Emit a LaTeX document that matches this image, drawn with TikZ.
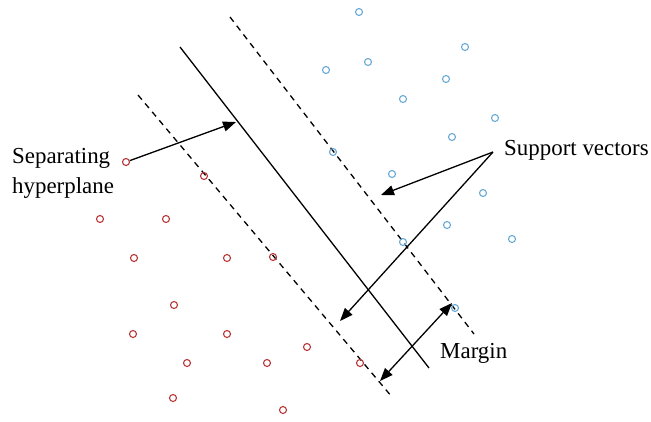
\documentclass[tikz,border=0pt]{standalone}
\usepackage{amsmath}
\usepackage{fontspec}
\setmainfont{Liberation Serif}
\usetikzlibrary{arrows.meta,positioning}
\definecolor{classred}{RGB}{185,55,55}
\definecolor{classblue}{RGB}{105,170,215}
\tikzset{
  red pt/.style={circle, draw=classred, line width=1.1bp, inner sep=0pt, minimum size=7bp},
  blue pt/.style={circle, draw=classblue, line width=1.1bp, inner sep=0pt, minimum size=7bp},
  plane/.style={line width=1.3bp},
  margin line/.style={line width=1.3bp, dash pattern=on 6bp off 5bp},
  pointer/.style={-{Triangle[length=13bp,width=10bp]}, line width=1.3bp},
  label/.style={inner sep=0pt, font=\fontsize{23}{30}\selectfont},
}

\begin{document}
\begin{tikzpicture}[x=1bp, y=-1bp]

  \useasboundingbox (0,0) rectangle (651,421);

  % Hyperplane and the two margin lines
  \coordinate (h1) at (180,47);  \coordinate (h2) at (429,368);
  \coordinate (u1) at (230,17);  \coordinate (u2) at (474,334);
  \coordinate (l1) at (138,95);  \coordinate (l2) at (392,397);
  \draw[plane] (h1) -- (h2);
  \draw[margin line] (u1) -- (u2);
  \draw[margin line] (l1) -- (l2);

  % Class points (red below, blue above)
  \foreach \x/\y [count=\i] in {
    126/162, 204/176, 100/219, 166/219, 134/258, 227/258, 273/257,
    174/305, 133/334, 227/334, 307/347, 187/363, 267/363, 360/363,
    173/398, 283/410
  }{
    \node[red pt] (r\i) at (\x,\y) {};
  }
  \foreach \x/\y [count=\i] in {
    359/12, 465/47, 368/62, 326/70, 446/79, 403/99, 495/118, 452/137,
    333/152, 392/174, 483/193, 447/225, 512/239, 403/242, 455/308
  }{
    \node[blue pt] (b\i) at (\x,\y) {};
  }

  % Labels
  \node[label, anchor=base west, align=left] (sep) at (12,193) {Separating\\hyperplane};
  \node[label, anchor=base west] (sv) at (504,155) {Support vectors};
  \node[label, anchor=base west] (mg) at (440,358) {Margin};

  % Pointers
  \coordinate (hp) at (236,122);
  \coordinate (svA) at (493,152);
  \coordinate (svU) at (381,195);
  \coordinate (svL) at (340,321);
  \coordinate (mL) at (380,381);
  \coordinate (mU) at (452,303);
  \draw[pointer] (r1) -- (hp);
  \draw[pointer] (svA) -- (svU);
  \draw[pointer] (svA) -- (svL);
  \draw[pointer, {Triangle[length=13bp,width=10bp]}-{Triangle[length=13bp,width=10bp]}] (mL) -- (mU);

\end{tikzpicture}
\end{document}
